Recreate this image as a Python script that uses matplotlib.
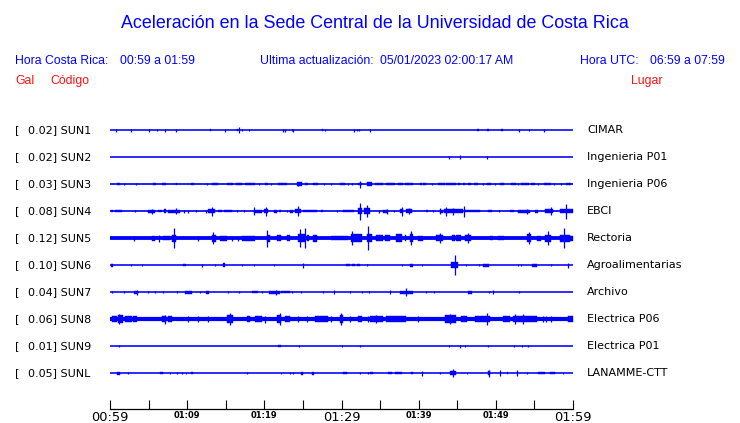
import matplotlib
matplotlib.use('Agg')
import matplotlib.pyplot as plt
from matplotlib import transforms

# estaciones
codes = ['SUN1', 'SUN2', 'SUN3', 'SUN4', 'SUN5', 'SUN6', 'SUN7', 'SUN8', 'SUN9', 'SUNL']
peaks = ['0.02', '0.02', '0.03', '0.08', '0.12', '0.10', '0.04', '0.06', '0.01', '0.05']
places = ['CIMAR', 'Ingenieria P01', 'Ingenieria P06', 'EBCI', 'Rectoria',
          'Agroalimentarias', 'Archivo', 'Electrica P06', 'Electrica P01', 'LANAMME-CTT']

# ruido de fondo (media amplitud, px)
noise = [0.8, 0.8, 0.85, 0.85, 1.9, 0.8, 0.8, 2.1, 0.8, 0.8]

# eventos: (minuto inicio, minuto fin, media amplitud px); inicio == fin -> pico
ev_sun1 = [(0.73, 0.73, 1.5), (2.68, 2.68, 1.5), (5.09, 5.09, 1.5), (6.13, 6.13, 1), (7.17, 7.17, 1.5),
           (8.59, 8.59, 1.5), (12.9, 13.05, 1.2), (14.94, 14.94, 1.5), (16.5, 16.6, 1.2), (16.75, 16.75, 3),
           (17.14, 17.14, 1.2), (18.05, 18.05, 1), (22.45, 22.45, 1.5), (22.67, 22.67, 1.5), (23.53, 23.53, 1),
           (23.75, 23.75, 1.5), (27.45, 27.65, 1.3), (27.85, 27.85, 1), (31.65, 31.65, 1.5), (32.04, 32.04, 1.2),
           (32.3, 32.3, 1), (33.72, 33.72, 1.5), (47.55, 47.85, 1.3), (48.85, 49.1, 1.3), (50.65, 50.95, 1.3),
           (53.02, 53.02, 1.5), (54.32, 54.32, 1), (56.26, 56.26, 1.5)]
ev_sun2 = [(43.95, 43.95, 1.5), (45.42, 45.42, 2), (48.88, 48.88, 1.5)]
ev_sun3 = [(0.86, 1.30, 1.3), (1.86, 1.86, 0.8), (3.32, 3.32, 1), (5.61, 5.92, 1.1), (6.69, 7.25, 1.1),
           (8.55, 8.7, 1.3), (10.5, 10.9, 1.1), (12.52, 12.52, 1), (13.17, 14.03, 0.9), (15.1, 16.0, 1.3),
           (16.3, 17.05, 1.2), (17.5, 18.8, 1.2), (19.3, 19.3, 1), (20.08, 20.5, 1.3), (20.9, 20.9, 1),
           (21.8, 22.9, 1.3), (24.18, 24.83, 1.7), (24.4, 24.4, 2.2), (25.3, 25.6, 1.3), (26.3, 27.0, 1.3),
           (27.76, 27.76, 1), (28.7, 28.7, 1), (29.8, 30.4, 1.1), (30.9, 30.9, 1), (31.3, 31.3, 1),
           (32.08, 32.6, 1.2), (32.43, 32.43, 3.5), (33.25, 33.9, 1.7), (34.3, 35.4, 1.3), (35.8, 36.9, 1.3),
           (37.3, 38.0, 1.3), (38.2, 39.3, 1.3), (40.15, 40.4, 1.1), (40.6, 41.0, 1.1), (41.7, 41.7, 1),
           (42.5, 43.4, 1.2), (43.6, 44.8, 1.3), (45.1, 45.4, 1.2), (45.7, 46.0, 1.2), (46.4, 46.8, 1.2),
           (47.15, 47.7, 1.2), (48.4, 48.4, 1), (48.8, 49.35, 1.3), (49.9, 49.9, 1), (50.5, 51.0, 1.2),
           (52.0, 52.55, 1.3), (52.9, 52.9, 1), (53.3, 54.3, 1.3), (54.6, 55.05, 1.2), (55.5, 55.5, 1),
           (56.3, 57.1, 1.2), (57.6, 57.6, 1), (58.5, 58.5, 1), (59.15, 59.7, 1.1)]
ev_sun4 = [(0.13, 0.4, 1.1), (0.6, 1.5, 1.1), (3.3, 3.3, 1.2), (4.9, 5.8, 1.4), (5.5, 5.5, 2.5), (6.2, 6.7, 1.1),
           (7.0, 7.3, 1.8), (7.55, 9.07, 1.4), (8.6, 8.6, 3), (9.6, 9.6, 1.5), (10.15, 10.15, 1.5),
           (11.2, 11.2, 1.2), (12.5, 12.5, 1.5), (12.7, 13.6, 1.8), (13.17, 13.17, 4.5), (14.0, 14.5, 1.2),
           (14.8, 15.8, 1.3), (16.5, 16.5, 1.2), (17.4, 17.4, 1.2), (18.6, 19.65, 1.4), (18.7, 18.7, 4),
           (20.0, 20.5, 2.2), (20.2, 20.2, 4.5), (21.2, 21.6, 1.4), (21.9, 22.2, 1.2), (22.9, 22.9, 1.2),
           (23.3, 23.75, 1.4), (24.0, 24.8, 2.2), (24.4, 24.4, 5), (25.0, 26.8, 1.3), (27.3, 27.6, 1.2),
           (29.4, 29.4, 1.2), (30.2, 31.65, 1.2), (32.1, 32.7, 2.7), (32.43, 32.43, 8.5), (32.9, 33.7, 3.0),
           (33.25, 33.25, 6), (34.85, 34.85, 1.5), (35.4, 36.05, 1.4), (35.85, 35.85, 2.5), (36.8, 36.8, 1.2),
           (37.6, 38.0, 1.8), (37.78, 37.78, 4.5), (38.4, 39.1, 1.8), (38.7, 38.7, 3), (40.9, 41.15, 1.1),
           (41.9, 41.9, 1.2), (42.7, 43.2, 1.4), (42.75, 42.75, 3), (43.3, 45.8, 2.2), (43.6, 43.6, 4.5),
           (44.4, 44.4, 3.5), (45.9, 45.9, 5.5), (46.0, 48.0, 1.2), (49.0, 49.5, 1.2), (50.4, 50.4, 1.2),
           (51.8, 52.4, 1.1), (52.9, 54.4, 1.4), (54.0, 54.0, 2.5), (55.05, 55.5, 1.4), (56.4, 57.4, 1.8),
           (57.1, 57.1, 4), (58.3, 59.6, 1.8), (59.07, 59.07, 7.5), (59.6, 60.0, 1.8)]
ev_sun5 = [(3.15, 3.15, 2.5), (5.4, 5.8, 2.4), (6.4, 6.4, 3.5), (6.9, 7.8, 2.2), (8.0, 8.6, 3.5),
           (8.33, 8.33, 10), (11.35, 11.35, 2.5), (13.17, 13.8, 3.5), (13.4, 13.4, 6), (14.25, 15.1, 2.4),
           (15.75, 15.75, 2.5), (16.6, 16.6, 2.5), (17.05, 18.8, 2.4), (20.3, 20.7, 3.5), (20.4, 20.4, 8.5),
           (21.6, 22.15, 2.8), (22.9, 23.3, 2.8), (24.3, 25.3, 4.0), (24.6, 24.6, 9), (25.26, 25.26, 10),
           (25.5, 25.8, 2.8), (26.3, 26.8, 3.5), (28.7, 30.9, 2.3), (31.2, 32.6, 4.2), (31.35, 31.35, 7),
           (33.25, 33.9, 4.2), (33.46, 33.46, 12), (34.5, 35.4, 2.8), (35.6, 36.3, 2.8), (37.1, 37.8, 3.8),
           (38.2, 38.4, 2.8), (38.85, 39.3, 3.8), (39.07, 39.07, 7), (39.9, 40.6, 2.4), (42.3, 43.2, 3.2),
           (42.75, 42.75, 5), (44.3, 44.7, 2.8), (44.9, 45.5, 2.8), (46.0, 46.8, 3.2), (46.4, 46.4, 5),
           (49.2, 49.65, 2.2), (50.3, 51.1, 2.2), (54.0, 54.6, 3.8), (54.3, 54.3, 6), (55.3, 55.9, 2.4),
           (56.35, 57.1, 3.5), (56.8, 56.8, 7), (58.3, 59.6, 3.5), (58.85, 58.85, 10), (59.6, 60.0, 2.4)]
ev_sun6 = [(0.1, 0.35, 1.5), (2.72, 2.72, 1.3), (4.1, 4.1, 1.3), (9.5, 9.85, 1.3), (11.9, 11.9, 1.5),
           (13.6, 13.6, 1.2), (14.6, 14.85, 2), (17.1, 17.1, 1.2), (18.6, 18.6, 1.3), (21.2, 21.2, 1.3),
           (24.96, 24.96, 2.5), (30.6, 31.1, 1.3), (31.4, 31.8, 1.3), (32.0, 32.4, 1.3), (33.25, 33.25, 1.3),
           (37.9, 37.9, 1), (38.9, 39.3, 1.4), (40.45, 40.45, 1.3), (44.25, 45.1, 3.2), (44.7, 44.7, 10),
           (46.1, 46.1, 1.3), (47.85, 47.85, 1.3), (48.4, 49.15, 1.4), (52.9, 52.9, 1), (53.3, 53.3, 1),
           (54.75, 55.3, 1.4), (57.2, 57.2, 1.3), (59.3, 59.3, 2.5)]
ev_sun7 = [(0.22, 0.22, 1), (1.81, 1.81, 1), (3.15, 3.67, 1.4), (3.5, 3.5, 2.5), (4.88, 4.88, 1),
           (5.83, 5.83, 1), (6.9, 6.9, 1), (8.64, 8.64, 1), (9.7, 10.66, 1.6), (11.6, 11.6, 1),
           (12.4, 12.86, 1.4), (15.25, 15.25, 1), (16.7, 16.7, 1), (18.35, 19.2, 1.2), (19.65, 19.65, 1),
           (20.6, 22.0, 1.6), (21.5, 21.5, 2.5), (22.2, 23.3, 1.2), (23.65, 23.65, 1), (24.7, 24.7, 1),
           (27.6, 27.6, 1.2), (29.0, 29.0, 2), (31.1, 31.1, 1.2), (32.6, 32.6, 1.2), (33.6, 33.6, 1.2),
           (36.3, 36.3, 2), (37.6, 39.3, 1.4), (38.3, 38.3, 4), (41.0, 41.0, 1), (42.0, 42.0, 1),
           (46.4, 46.85, 1.4), (49.1, 49.1, 1.2), (49.6, 49.6, 2), (53.0, 53.0, 1)]
ev_sun8 = [(0.22, 0.87, 3.0), (1.08, 1.72, 4.0), (1.2, 1.2, 5), (1.94, 2.81, 3.0), (3.02, 3.46, 3.3),
           (6.7, 7.3, 3.3), (7.1, 7.1, 4.5), (7.55, 7.99, 3.0), (10.1, 10.1, 3), (11.45, 11.45, 2.8),
           (12.7, 12.7, 2.8), (15.1, 16.0, 3.7), (15.6, 15.6, 6), (17.7, 18.2, 3.0), (18.8, 19.65, 3.2),
           (20.1, 20.1, 3.5), (21.6, 22.2, 4.0), (22.0, 22.0, 6), (22.65, 23.3, 3.0), (24.4, 24.4, 2.8),
           (25.5, 25.5, 2.8), (26.55, 28.3, 2.8), (28.7, 28.7, 2.8), (29.8, 30.2, 3.7), (29.9, 29.9, 6),
           (31.1, 31.1, 2.8), (32.2, 32.6, 3.2), (33.45, 33.45, 2.8), (33.7, 35.4, 3.2), (34.5, 34.5, 4),
           (35.8, 38.4, 2.9), (39.9, 39.9, 2.8), (43.4, 44.9, 3.7), (44.0, 44.0, 5), (45.55, 46.2, 3.0),
           (47.3, 49.2, 3.2), (48.9, 48.9, 6), (50.9, 51.8, 3.0), (52.2, 55.3, 3.2), (52.5, 52.5, 5),
           (53.5, 53.5, 5), (56.1, 56.1, 2.8), (56.5, 56.5, 2.8), (57.2, 57.2, 2.8), (59.4, 60.0, 3.0)]
ev_sun9 = [(1.2, 1.2, 1.2), (21.8, 22.2, 1.2), (24.5, 24.5, 1), (30.0, 30.0, 1), (32.4, 32.4, 1),
           (43.95, 43.95, 1), (45.3, 45.3, 1.5), (46.0, 46.0, 1), (49.0, 49.0, 1), (52.3, 52.3, 1),
           (53.45, 53.45, 1), (54.2, 54.2, 1)]
ev_sunl = [(0.9, 1.25, 1.5), (2.37, 2.37, 1), (6.5, 6.9, 1.2), (7.77, 7.77, 1), (8.64, 8.64, 1),
           (9.3, 9.3, 1), (9.85, 9.85, 1), (10.5, 10.75, 1.3), (17.7, 17.7, 1), (22.1, 22.1, 1),
           (23.3, 23.3, 1), (23.75, 23.75, 1), (24.7, 25.0, 1.5), (26.2, 26.45, 1.5), (30.2, 30.65, 1.3),
           (32.4, 32.4, 1), (33.45, 33.45, 1), (33.7, 34.1, 1.2), (36.05, 36.6, 1.3), (36.9, 37.8, 1.3),
           (39.05, 39.3, 1.2), (40.4, 40.4, 2.5), (42.75, 42.75, 1), (44.0, 44.9, 2.0), (44.5, 44.5, 4),
           (46.2, 46.2, 1), (49.0, 49.3, 2.4), (49.15, 49.15, 3.5), (50.5, 50.5, 3), (51.4, 51.6, 1.2),
           (52.7, 52.7, 3), (54.0, 54.0, 1), (55.5, 56.35, 1.3), (57.0, 57.65, 1.3), (58.7, 58.7, 1.2)]
events = [ev_sun1, ev_sun2, ev_sun3, ev_sun4, ev_sun5, ev_sun6, ev_sun7, ev_sun8, ev_sun9, ev_sunl]

# eje de tiempo (minutos desde 00:59)
tick_min = [0, 5, 10, 15, 20, 25, 30, 35, 40, 45, 50, 55, 60]
tick_lab = ['00:59', '', '01:09', '', '01:19', '', '01:29', '', '01:39', '', '01:49', '', '01:59']
big_lab = ['00:59', '01:29', '01:59']

W, H = 740, 423
BLUE = '#0000ff'
RED = '#ff1010'

fig = plt.figure(figsize=(W / 100, H / 100), dpi=100)
# eje: x 110..573 px, y 115..409 px
ax = fig.add_axes([110 / W, 1 - 409 / H, (573 - 110) / W, (409 - 115) / H])
ax.set_xlim(0, 60)
ax.set_ylim(10.33, -0.56)
PX = 1 / 27.0  # unidades de traza por pixel

for i, ev in enumerate(events):
    ax.hlines(i, 0, 60.2, color=BLUE, lw=2 * noise[i] * 0.72)
    for t0, t1, a in ev:
        if t1 > t0:
            ax.fill_between([t0, t1], i - a * PX, i + a * PX, color=BLUE, lw=0.3)
        else:
            ax.vlines(t0, i - a * PX, i + a * PX, color=BLUE, lw=0.9)

for s in ['top', 'left', 'right']:
    ax.spines[s].set_visible(False)
ax.spines['bottom'].set_linewidth(0.9)
ax.set_yticks([])
ax.set_xticks(tick_min)
ax.set_xticklabels(tick_lab)
ax.tick_params(axis='x', direction='in', length=6.5, width=0.8, pad=1.5)
for lab in ax.get_xticklabels():
    if lab.get_text() in big_lab:
        lab.set_fontsize(9.4)
    else:
        lab.set_fontsize(6.0)
        lab.set_fontweight('bold')

# etiquetas de las trazas
tr = transforms.blended_transform_factory(fig.transFigure, ax.transData)
for i in range(len(codes)):
    ax.text(15 / W, i, '[', transform=tr, fontsize=8, va='center', ha='left', family='DejaVu Sans')
    ax.text(27.5 / W, i, peaks[i] + '] ' + codes[i], transform=tr, fontsize=8, va='center',
            ha='left', family='DejaVu Sans')
    ax.text(587 / W, i, places[i], transform=tr, fontsize=8, va='center', ha='left',
            family='DejaVu Sans')

# encabezado
hf = 'Liberation Sans'
fig.text(375 / W, 1 - 23 / H, 'Aceleración en la Sede Central de la Universidad de Costa Rica',
         ha='center', va='center', color=BLUE, fontsize=12.9, family=hf)
fig.text(15 / W, 1 - 61 / H, 'Hora Costa Rica:', va='center', color=BLUE, fontsize=8.8, family=hf)
fig.text(120.5 / W, 1 - 61 / H, '00:59 a 01:59', va='center', color=BLUE, fontsize=8.8, family=hf)
fig.text(260.5 / W, 1 - 61 / H, 'Ultima actualización:', va='center', color=BLUE, fontsize=8.8, family=hf)
fig.text(380 / W, 1 - 61 / H, '05/01/2023 02:00:17 AM', va='center', color=BLUE, fontsize=8.8, family=hf)
fig.text(580.5 / W, 1 - 61 / H, 'Hora UTC:', va='center', color=BLUE, fontsize=8.8, family=hf)
fig.text(650.5 / W, 1 - 61 / H, '06:59 a 07:59', va='center', color=BLUE, fontsize=8.8, family=hf)
fig.text(15 / W, 1 - 81 / H, 'Gal', va='center', color=RED, fontsize=8.8, family=hf)
fig.text(50 / W, 1 - 81 / H, 'Código', va='center', color=RED, fontsize=8.8, family=hf)
fig.text(630.5 / W, 1 - 81 / H, 'Lugar', va='center', color=RED, fontsize=8.8, family=hf)

fig.savefig('out.png', dpi=100)
